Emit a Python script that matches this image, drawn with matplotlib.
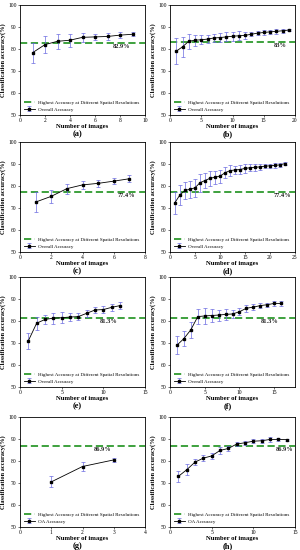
import matplotlib
matplotlib.use("Agg")
import matplotlib.pyplot as plt

plt.rcParams['font.family'] = ['Liberation Serif', 'DejaVu Serif']

# panel data: number of images, accuracy, error
x_a = [1, 2, 3, 4, 5, 6, 7, 8, 9]
y_a = [78.3, 82.0, 83.5, 84.0, 85.3, 85.5, 85.7, 86.3, 86.7]
e_a = [4.5, 4.0, 3.5, 3.0, 2.0, 1.5, 1.5, 1.5, 1.0]

x_b = list(range(1, 20))
y_b = [79.0, 81.0, 83.5, 84.0, 84.2, 84.5, 85.0, 85.2, 85.5, 85.8, 86.0, 86.2,
       86.7, 87.2, 87.5, 87.8, 88.0, 88.3, 88.6]
e_b = [6.0, 4.5, 3.5, 2.5, 2.0, 2.0, 2.0, 2.0, 2.0, 2.0, 2.0, 1.5, 1.0, 1.0,
       1.0, 1.0, 1.0, 1.0, 0.5]

x_c = [1, 2, 3, 4, 5, 6, 7]
y_c = [72.7, 75.3, 78.8, 80.5, 81.2, 82.2, 83.3]
e_c = [4.5, 3.0, 2.3, 2.0, 1.5, 1.5, 1.5]

x_d = list(range(1, 24))
y_d = [72.5, 76.0, 78.0, 78.5, 79.2, 81.5, 82.5, 83.5, 84.0, 84.5, 86.0, 87.0,
       87.3, 87.5, 88.0, 88.3, 88.5, 88.7, 89.0, 89.2, 89.4, 89.6, 90.2]
e_d = [5.0, 4.5, 4.0, 4.0, 4.0, 4.0, 3.5, 3.5, 3.0, 3.0, 2.5, 2.5, 2.0, 2.0,
       2.0, 1.5, 1.5, 1.5, 1.0, 1.0, 1.0, 1.0, 0.5]

x_e = list(range(1, 13))
y_e = [71.0, 79.0, 80.7, 81.3, 81.5, 81.8, 82.0, 83.5, 85.0, 85.2, 86.2, 87.0]
e_e = [3.5, 3.0, 2.0, 2.5, 2.5, 2.0, 1.5, 1.5, 1.5, 1.5, 1.5, 1.5]

x_f = list(range(1, 17))
y_f = [69.0, 72.0, 76.0, 82.0, 82.3, 82.5, 82.7, 83.0, 83.2, 84.2, 85.8, 86.3,
       87.0, 87.4, 88.0, 88.0]
e_f = [4.0, 3.5, 3.5, 3.5, 3.5, 3.0, 2.5, 2.5, 2.0, 1.5, 1.5, 1.5, 1.0, 1.0,
       1.0, 1.0]

x_g = [1, 2, 3]
y_g = [70.5, 77.5, 80.5]
e_g = [2.5, 2.0, 1.0]

x_h = list(range(1, 15))
y_h = [73.0, 76.0, 79.5, 81.3, 82.3, 84.8, 85.7, 87.7, 88.3, 89.0, 89.2, 89.8,
       89.8, 89.7]
e_h = [2.5, 2.5, 1.5, 1.5, 1.5, 1.5, 1.0, 1.0, 1.0, 1.0, 1.0, 1.0, 0.5, 0.5]

best = [82.9, 83.0, 77.4, 77.4, 81.3, 81.3, 86.9, 86.9]
best_labels = ['82.9%', '83%', '77.4%', '77.4%', '81.3%', '81.3%', '86.9%', '86.9%']
xmax = [10, 20, 8, 25, 15, 18, 4, 15]
xticks = [[0, 2, 4, 6, 8, 10], [0, 5, 10, 15, 20], [0, 2, 4, 6, 8],
          [0, 5, 10, 15, 20, 25], [0, 5, 10, 15], [0, 5, 10, 15],
          [0, 1, 2, 3, 4], [0, 5, 10, 15]]
series_names = ['Overall Accuracy'] * 6 + ['OA Accuracy'] * 2
panel_names = ['(a)', '(b)', '(c)', '(d)', '(e)', '(f)', '(g)', '(h)']

xs = [x_a, x_b, x_c, x_d, x_e, x_f, x_g, x_h]
ys = [y_a, y_b, y_c, y_d, y_e, y_f, y_g, y_h]
es = [e_a, e_b, e_c, e_d, e_e, e_f, e_g, e_h]

W, H = 300, 550
fig = plt.figure(figsize=(3.0, 5.5), dpi=100)

tops = [5, 142, 277, 417]
lefts = [20, 170]
aw, ah = 125, 110

for i in range(8):
    row, col = i // 2, i % 2
    l, t = lefts[col], tops[row]
    ax = fig.add_axes([l / W, 1 - (t + ah) / H, aw / W, ah / H])
    ax.axhline(best[i], color='#2e9a2e', ls='--', lw=1.3, dashes=(4, 2),
               label='Highest Accuracy at Different Spatial Resolutions')
    ax.errorbar(xs[i], ys[i], yerr=es[i], color='black', lw=0.6, marker='s',
                ms=1.6, ecolor='#6a6ae0', elinewidth=0.5, capsize=1.2,
                capthick=0.5, label=series_names[i])
    xm = xs[i][-1]
    ax.text(xm - 0.02 * xmax[i], best[i] - 0.4, best_labels[i], fontsize=4.6,
            fontweight='bold',
            ha='right' if i in (0, 1, 4, 5, 6) else 'center', va='top',
            color='#222222')
    ax.set_xlim(0, xmax[i])
    ax.set_ylim(50, 100)
    ax.set_xticks(xticks[i])
    ax.set_yticks([50, 60, 70, 80, 90, 100])
    ax.tick_params(labelsize=4.0, length=1.5, width=0.4, pad=1)
    for s in ax.spines.values():
        s.set_linewidth(0.6)
    ax.set_xlabel('Number of images', fontsize=4.8, fontweight='bold', labelpad=0.5)
    ax.set_ylabel('Classification accuracy(%)', fontsize=4.6, fontweight='bold',
                  labelpad=1.5)
    ax.legend(loc='lower left', fontsize=3.6, frameon=False, handlelength=2.2,
              handletextpad=0.6, borderaxespad=0.3, labelspacing=0.4)
    fig.text((l + aw / 2 - 5) / W, 1 - (t + ah + 19) / H, panel_names[i],
             fontsize=6, fontweight='bold', ha='center', va='center')

fig.savefig('out.png', dpi=100)
